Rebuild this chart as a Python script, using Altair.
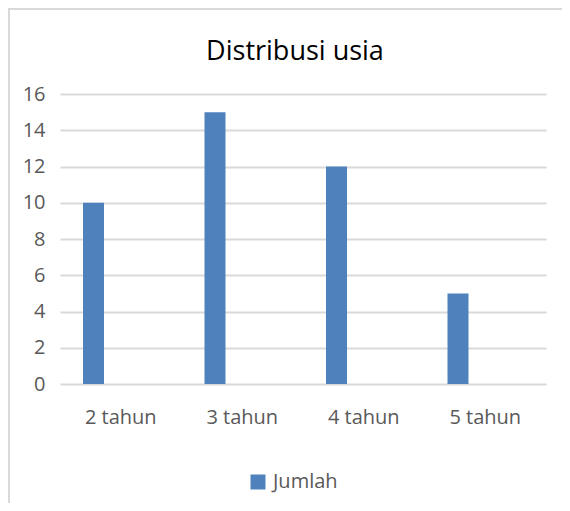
import altair as alt
import pandas as pd

categories = ["2 tahun", "3 tahun", "4 tahun", "5 tahun"]
values = [10, 15, 12, 5]
series_name = "Jumlah"
y_ticks = [0, 2, 4, 6, 8, 10, 12, 14, 16]
title_text = "Distribusi usia"

df = pd.DataFrame({"kategori": categories, "nilai": values, "seri": [series_name] * len(categories)})

FONT = "Open Sans"
GRAY = "#595959"
BLUE = "#4F81BD"
FRAME = "#d9d9d9"

bars = alt.Chart(df).mark_bar(width=21, xOffset=-27.25).encode(
    x=alt.X("kategori:N", sort=categories,
            scale=alt.Scale(paddingInner=0, paddingOuter=0),
            axis=alt.Axis(title=None, labelAngle=0, domain=False, ticks=False,
                          labelFont=FONT, labelFontSize=20, labelColor=GRAY,
                          labelPadding=23.4)),
    y=alt.Y("nilai:Q", scale=alt.Scale(domain=[0, 16], nice=False),
            axis=alt.Axis(title=None, values=y_ticks, domain=False, ticks=False,
                          grid=True, gridColor=FRAME, gridWidth=1.8,
                          labelFont=FONT, labelFontSize=20, labelColor=GRAY,
                          labelPadding=15)),
    color=alt.Color("seri:N", scale=alt.Scale(domain=[series_name], range=[BLUE]),
                    legend=alt.Legend(title=None, orient="none", legendX=188, legendY=378,
                                      symbolType="square", symbolSize=225,
                                      symbolStrokeWidth=0, padding=0,
                                      labelFont=FONT, labelFontSize=20,
                                      labelColor=GRAY, labelOffset=5)),
)

one = alt.Data(values=[{"t": title_text}])

title = alt.Chart(one).mark_text(
    font=FONT, fontSize=27, color="#000000", align="center", baseline="alphabetic"
).encode(x=alt.value(235), y=alt.value(-34.5), text="t:N")

frame_left = alt.Chart(one).mark_rule(color=FRAME, strokeWidth=2).encode(
    x=alt.value(-51), y=alt.value(-85), y2=alt.value(420))
frame_top = alt.Chart(one).mark_rule(color=FRAME, strokeWidth=2).encode(
    x=alt.value(-52), x2=alt.value(520), y=alt.value(-85))

chart = alt.layer(frame_left, frame_top, bars, title).properties(
    width=486, height=290,
    autosize=alt.AutoSizeParams(type="none"),
    padding={"left": 52, "top": 86, "right": 16, "bottom": 119},
).configure_view(stroke=None)

chart.save("out.html", embed_options={"renderer": "svg", "actions": False})
